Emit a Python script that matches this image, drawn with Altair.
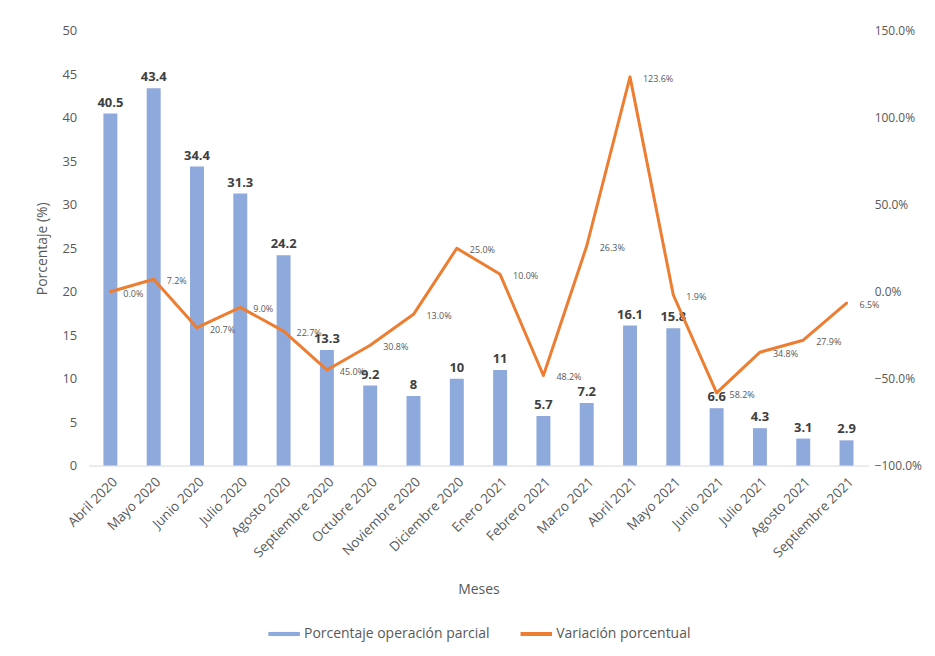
import altair as alt
import pandas as pd

meses = ["Abril 2020", "Mayo 2020", "Junio 2020", "Julio 2020", "Agosto 2020",
         "Septiembre 2020", "Octubre 2020", "Noviembre 2020", "Diciembre 2020",
         "Enero 2021", "Febrero 2021", "Marzo 2021", "Abril 2021", "Mayo 2021",
         "Junio 2021", "Julio 2021", "Agosto 2021", "Septiembre 2021"]
porcentaje = [40.5, 43.4, 34.4, 31.3, 24.2, 13.3, 9.2, 8, 10, 11, 5.7, 7.2,
              16.1, 15.8, 6.6, 4.3, 3.1, 2.9]
variacion = [0.0, 7.2, -20.7, -9.0, -22.7, -45.0, -30.8, -13.0, 25.0, 10.0,
             -48.2, 26.3, 123.6, -1.9, -58.2, -34.8, -27.9, -6.5]

S1 = "Porcentaje operación parcial"
S2 = "Variación porcentual"
BLUE = "#8EA9DB"
ORANGE = "#ED7D31"
FONT = "Open Sans"
GRAY = "#595959"

df = pd.DataFrame({"mes": meses, "pct": porcentaje, "var": variacion, "serie": [S1] * len(meses)})

X = alt.X("mes:N", sort=meses, title="Meses",
          scale=alt.Scale(paddingInner=0.68, paddingOuter=0.34),
          axis=alt.Axis(labelAngle=-45, labelAlign="right", labelBaseline="top",
                        labelFontSize=13.5, labelColor=GRAY, labelPadding=9,
                        ticks=False, domainColor="#D9D9D9", domainWidth=1,
                        titleFontSize=14, titleColor=GRAY, titleFontWeight="normal",
                        titlePadding=23, grid=False))

YL = alt.Y("pct:Q", title="Porcentaje (%)",
           scale=alt.Scale(domain=[0, 50], nice=False, zero=True),
           axis=alt.Axis(values=list(range(0, 51, 5)), domain=False, ticks=False,
                         grid=False, labelFontSize=13, labelColor=GRAY,
                         labelPadding=12, titleFontSize=14, titleColor=GRAY,
                         titleFontWeight="normal", titlePadding=13))

YR = alt.Y("var:Q", title=None,
           scale=alt.Scale(domain=[-100, 150], nice=False, zero=False),
           axis=alt.Axis(orient="right", values=[-100, -50, 0, 50, 100, 150],
                         labelExpr="format(datum.value/100, '.1%')",
                         domain=False, ticks=False, grid=False, labelFontSize=12,
                         labelColor=GRAY, labelPadding=6))

base_l = alt.Chart(df).encode(x=X, y=YL)
bars = base_l.mark_bar(width=14).encode(
    color=alt.Color("serie:N", scale=alt.Scale(domain=[S1, S2], range=[BLUE, ORANGE]),
                    legend=alt.Legend(title=None, orient="none", legendX=180, legendY=589,
                                      direction="horizontal",
                                      symbolType="M-1,-0.13H1V0.13H-1Z", symbolSize=1000,
                                      symbolStrokeWidth=0, labelFontSize=14, labelColor=GRAY,
                                      labelLimit=0, columnPadding=30, labelOffset=4))
)
bar_text = base_l.mark_text(dy=-11, fontWeight="bold", fontSize=13, color="#404040",
                            font=FONT).encode(text=alt.Text("pct:Q"))
left = alt.layer(bars, bar_text)

base_r = alt.Chart(df).transform_calculate(
    lab="format(abs(datum.var)/100, '.1%')"
).encode(x=X, y=YR)
line = base_r.mark_line(color=ORANGE, strokeWidth=3, strokeJoin="round", strokeCap="round")
line_text = base_r.mark_text(align="left", baseline="middle", dx=13, dy=2, fontSize=9,
                             color=GRAY, font=FONT).encode(text="lab:N")
right = alt.layer(line, line_text)

chart = alt.layer(left, right).resolve_scale(y="independent").properties(
    width=782, height=436,
    padding={"left": 27, "top": 16, "right": 5, "bottom": 5},
).configure(font=FONT).configure_view(stroke=None)

chart.save("out.html", embed_options={"renderer": "svg", "actions": False})
